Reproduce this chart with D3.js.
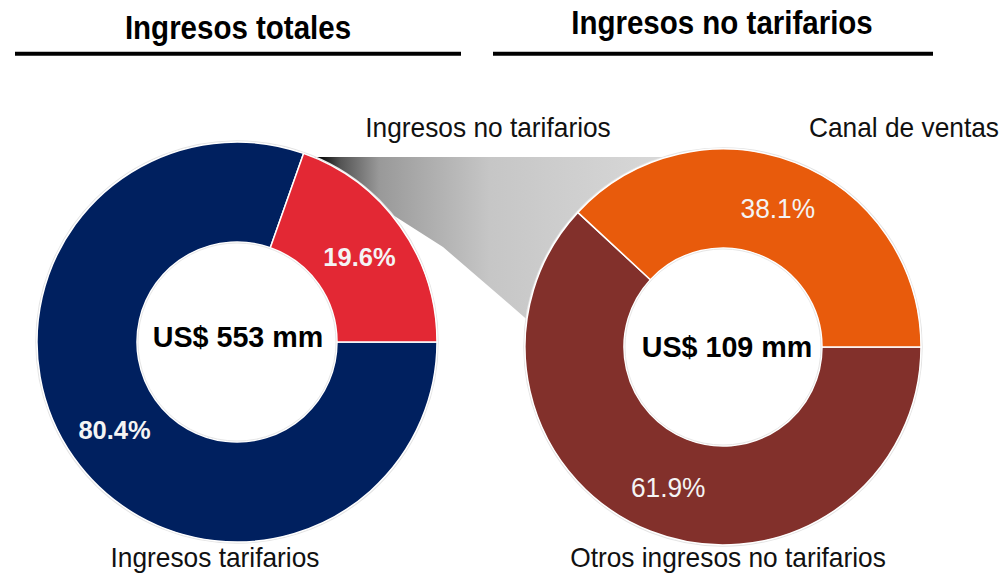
<!DOCTYPE html>
<html>
<head>
<meta charset="utf-8">
<script src="https://cdn.jsdelivr.net/npm/d3@7"></script>
<style>
  body { margin: 0; background: #fff; }
  svg { display: block; font-family: "Liberation Sans", Arial, sans-serif; }
</style>
</head>
<body>
<div id="wrapper"></div>
<script>
// data
const totalLabels = ["Ingresos tarifarios", "Ingresos no tarifarios"]
const totalValues = [80.4, 19.6]
const totalColors = ["#00205f", "#e32834"]

const noTarLabels = ["Otros ingresos no tarifarios", "Canal de ventas"]
const noTarValues = [61.9, 38.1]
const noTarColors = ["#82302b", "#e85b0c"]

const titles = ["Ingresos totales", "Ingresos no tarifarios"]
const centerTexts = ["US$ 553 mm", "US$ 109 mm"]

const dims = { width: 1003, height: 574 }

const wrapper = d3.select("#wrapper")
    .append("svg")
    .attr("width", dims.width)
    .attr("height", dims.height)

const defs = wrapper.append("defs")

const left = { cx: 237, cy: 342, inner: 100, outer: 200 }
const right = { cx: 723, cy: 347, inner: 99, outer: 198 }

// text helper: the source font is a bit taller than it is wide
const addText = (parent, x, y, str, size, weight, stretch, fill) =>
    parent.append("text")
        .attr("transform", `translate(${x},${y}) scale(1,${stretch})`)
        .attr("text-anchor", "middle")
        .attr("fill", fill || "#000")
        .style("font-size", size + "px")
        .style("font-weight", weight)
        .text(str)

// connector gradient between the two donuts
const grad = defs.append("linearGradient")
    .attr("id", "fade")
    .attr("gradientUnits", "userSpaceOnUse")
    .attr("x1", left.cx + 81).attr("y1", 0)
    .attr("x2", right.cx - 23).attr("y2", 0)
grad.selectAll("stop")
    .data([[0, "#000"], [0.06, "#555"], [0.16, "#999"], [0.45, "#c6c6c6"], [1, "#dcdcdc"]])
    .join("stop")
    .attr("offset", d => d[0])
    .attr("stop-color", d => d[1])

// polygon built from the donut geometry (mostly hidden behind the rings)
const rad = a => a * Math.PI / 180
const topY = left.cy - 185
const connector = [
    [left.cx + 60, topY],
    [right.cx, topY],
    [right.cx + right.outer * Math.sin(rad(-82)), right.cy - right.outer * Math.cos(rad(-82))],
    [left.cx + 206, left.cy - 95],
    [left.cx + 123, left.cy - 148],
]
wrapper.append("path")
    .attr("d", d3.line()(connector) + "Z")
    .attr("fill", "url(#fade)")

const pie = d3.pie()
    .sort(null)
    .startAngle(Math.PI / 2)
    .endAngle(Math.PI / 2 + 2 * Math.PI)

const drawDonut = (cfg, values, colors, bold) => {
    const arc = d3.arc().innerRadius(cfg.inner).outerRadius(cfg.outer)
    const labelArc = d3.arc().innerRadius(150).outerRadius(150)
    const g = wrapper.append("g")
        .attr("transform", `translate(${cfg.cx},${cfg.cy})`)

    g.append("circle")
        .attr("r", cfg.outer + 1)
        .attr("fill", "none")
        .attr("stroke", "#e4e4e4")
        .attr("stroke-width", 1.5)

    const arcs = pie(values)
    g.selectAll("path")
        .data(arcs)
        .join("path")
        .attr("d", arc)
        .attr("fill", (d, i) => colors[i])
        .attr("stroke", "#fff")
        .attr("stroke-width", 1.5)

    g.append("circle")
        .attr("r", cfg.inner - 1)
        .attr("fill", "none")
        .attr("stroke", "#e6e6e6")
        .attr("stroke-width", 1)

    arcs.forEach(d => {
        const [x, y] = labelArc.centroid(d)
        addText(g, x, y + 10.5, d.data.toFixed(1) + "%",
            bold ? 25.5 : 26.3, bold ? "bold" : "normal", 1.02, "#f4f4f4")
    })
    return g
}

const gl = drawDonut(left, totalValues, totalColors, true)
const gr = drawDonut(right, noTarValues, noTarColors, false)

addText(gl, 1, 5, centerTexts[0], 28.7, "bold", 1.04)
addText(gr, 4, 10, centerTexts[1], 28.7, "bold", 1.04)

// titles with underline
const titleSpec = [
    { x: 238, y: 39, x1: 15, x2: 461 },
    { x: 722, y: 34, x1: 493, x2: 933 },
]
titleSpec.forEach((t, i) => {
    addText(wrapper, t.x, t.y, titles[i], 29.5, "bold", 1.1)
    wrapper.append("line")
        .attr("x1", t.x1).attr("x2", t.x2)
        .attr("y1", 53.7).attr("y2", 53.7)
        .attr("stroke", "#000")
        .attr("stroke-width", 4)
})

// category labels
const catLabels = [
    { text: totalLabels[1], x: 488, y: 137 },
    { text: noTarLabels[1], x: 904, y: 137 },
    { text: totalLabels[0], x: 215, y: 567 },
    { text: noTarLabels[0], x: 728, y: 567 },
]
catLabels.forEach(d => addText(wrapper, d.x, d.y, d.text, 26.3, "normal", 1.06, "#111"))
</script>
</body>
</html>
